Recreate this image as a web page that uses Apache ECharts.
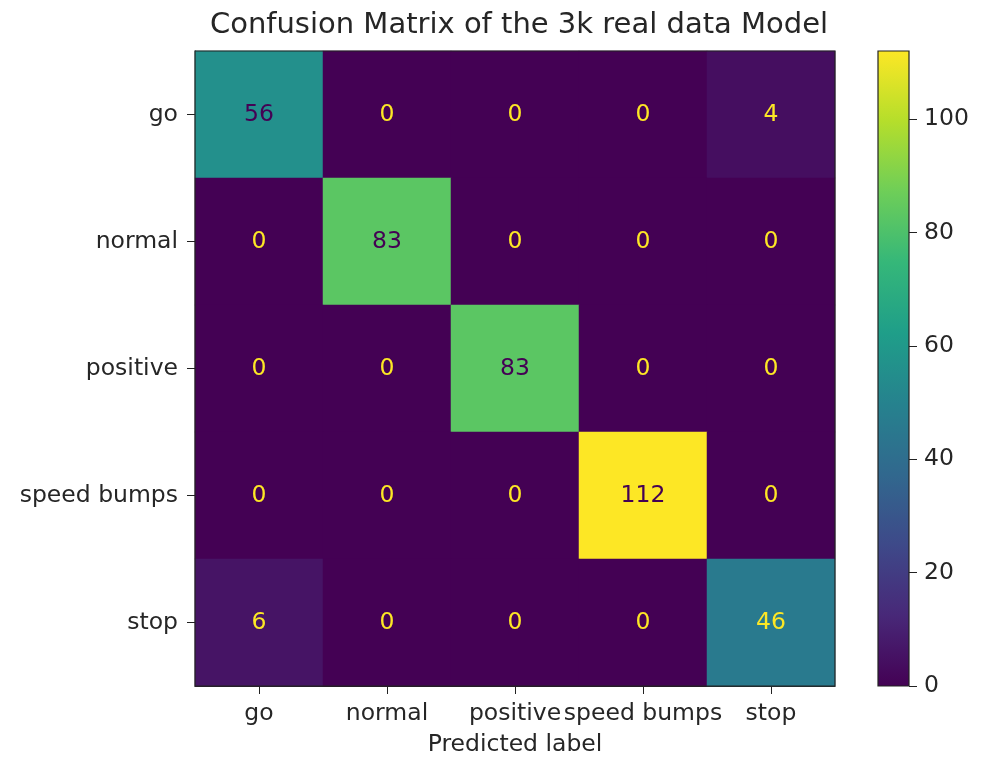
<!DOCTYPE html>
<html>
<head>
<meta charset="utf-8">
<script src="https://cdn.jsdelivr.net/npm/echarts@6/dist/echarts.min.js"></script>
<style>html,body{margin:0;padding:0;background:#fff}#c{width:982px;height:760px}</style>
</head>
<body>
<div id="c"></div>
<script>
const categories = ['go', 'normal', 'positive', 'speed bumps', 'stop'];
const rowGo = [56, 0, 0, 0, 4];
const rowNormal = [0, 83, 0, 0, 0];
const rowPositive = [0, 0, 83, 0, 0];
const rowSpeedBumps = [0, 0, 0, 112, 0];
const rowStop = [6, 0, 0, 0, 46];
const colorbarTicks = [0, 20, 40, 60, 80, 100];
const vMin = 0, vMax = 112;

const rows = [rowGo, rowNormal, rowPositive, rowSpeedBumps, rowStop];
const data = [];
rows.forEach((r, i) => r.forEach((v, j) => data.push([j, i, v])));

const viridis = ['#440154','#482878','#3e4989','#31688e','#26828e','#1f9e89','#35b779','#6ece58','#b5de2b','#fde725'];
const font = 'DejaVu Sans';
const fs = 23.5;
const txt = '#262626';
const thresh = (vMax + vMin) / 2;

const G = { left: 195, top: 51, width: 640, height: 635 };
const CB = { left: 878, top: 51, width: 31, height: 635 };

const chart = echarts.init(document.getElementById('c'));
chart.setOption({
  animation: false,
  textStyle: { fontFamily: font },
  title: {
    text: 'Confusion Matrix of the 3k real data Model',
    left: 514, top: 6, textAlign: 'center',
    textStyle: { fontFamily: font, fontWeight: 'normal', fontSize: 29, color: txt }
  },
  grid: [
    Object.assign({ show: true, borderColor: '#222', borderWidth: 1.2, backgroundColor: 'transparent', z: 5, outerBoundsMode: 'none', containLabel: false }, G),
    Object.assign({ outerBoundsMode: 'none', containLabel: false }, CB)
  ],
  xAxis: [
    {
      type: 'category', data: categories, gridIndex: 0,
      name: 'Predicted label', nameLocation: 'middle', nameGap: 47,
      nameTextStyle: { fontFamily: font, fontSize: fs, color: txt },
      axisLine: { show: true, lineStyle: { color: '#222' } },
      axisTick: { show: true, alignWithLabel: true, length: 8, lineStyle: { color: '#222' } },
      axisLabel: { interval: 0, fontFamily: font, fontSize: fs, color: txt, margin: 16 },
      splitLine: { show: false }
    },
    { type: 'category', data: [''], gridIndex: 1, show: false }
  ],
  yAxis: [
    {
      type: 'category', data: categories, gridIndex: 0, inverse: true,
      axisLine: { show: true, lineStyle: { color: '#222' } },
      axisTick: { show: true, alignWithLabel: true, length: 8, lineStyle: { color: '#222' } },
      axisLabel: { interval: 0, fontFamily: font, fontSize: fs, color: txt, margin: 17 },
      splitLine: { show: false }
    },
    {
      type: 'value', gridIndex: 1, position: 'right', min: vMin, max: vMax, interval: 20,
      axisLine: { show: false },
      axisTick: { show: true, inside: false, length: 8, customValues: colorbarTicks, lineStyle: { color: '#222' } },
      minorTick: { show: false },
      axisLabel: {
        fontFamily: font, fontSize: fs, color: txt, margin: 15,
        customValues: colorbarTicks,
        formatter: v => colorbarTicks.includes(v) ? String(v) : ''
      },
      splitLine: { show: false }
    }
  ],
  visualMap: {
    show: false, type: 'continuous', min: vMin, max: vMax, seriesIndex: 0,
    inRange: { color: viridis }
  },
  graphic: [{
    type: 'rect', z: 100, silent: true,
    shape: { x: CB.left, y: CB.top, width: CB.width, height: CB.height },
    style: {
      fill: new echarts.graphic.LinearGradient(0, 1, 0, 0,
        viridis.map((c, i) => ({ offset: i / (viridis.length - 1), color: c }))),
      stroke: '#222', lineWidth: 1.2
    }
  }],
  series: [{
    type: 'heatmap', xAxisIndex: 0, yAxisIndex: 0,
    data: data.map(d => ({
      value: d,
      label: { color: d[2] < thresh ? '#fde725' : '#440154' }
    })),
    label: {
      show: true, fontFamily: font, fontSize: fs,
      formatter: p => String(p.value[2])
    },
    emphasis: { disabled: true }
  }]
});
</script>
</body>
</html>
